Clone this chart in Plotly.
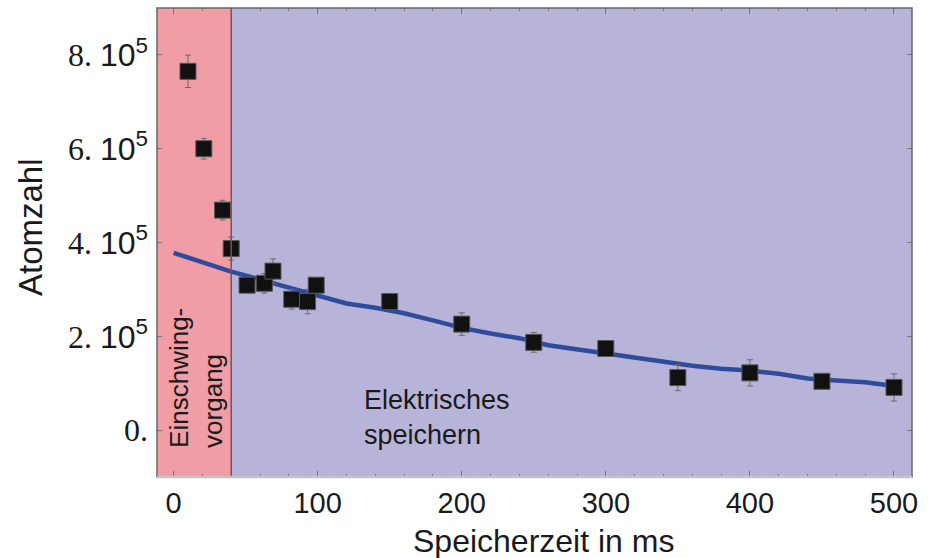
import plotly.graph_objects as go

# Measured atom numbers vs. storage time
t_ms = [10, 21, 34, 40, 51, 63, 69, 82, 93, 99, 150, 200, 250, 300, 350, 400, 450, 500]
atoms = [7.65e5, 6.00e5, 4.69e5, 3.87e5, 3.09e5, 3.13e5, 3.39e5, 2.79e5, 2.74e5, 3.09e5,
         2.74e5, 2.26e5, 1.87e5, 1.74e5, 1.12e5, 1.22e5, 1.04e5, 0.91e5]
atoms_err = [0.345e5, 0.22e5, 0.21e5, 0.245e5, 0.12e5, 0.21e5, 0.26e5, 0.21e5, 0.26e5, 0.12e5,
             0.12e5, 0.24e5, 0.21e5, 0.12e5, 0.28e5, 0.28e5, 0.12e5, 0.29e5]

# Model curve for electric storage
fit_t = [0, 20, 40, 60, 80, 100, 120, 140, 160, 180, 200, 220, 240, 260, 280, 300,
         320, 340, 360, 380, 400, 420, 440, 460, 480, 500]
fit_atoms = [3.78e5, 3.58e5, 3.38e5, 3.21e5, 3.04e5, 2.86e5, 2.70e5, 2.61e5, 2.49e5, 2.34e5,
             2.18e5, 2.06e5, 1.96e5, 1.81e5, 1.72e5, 1.63e5, 1.54e5, 1.46e5, 1.37e5, 1.31e5,
             1.27e5, 1.20e5, 1.10e5, 1.06e5, 1.02e5, 0.94e5]

# Axis ticks
y_tickvals = [0, 2e5, 4e5, 6e5, 8e5]
y_prefix = ["0.", "2.", "4.", "6.", "8."]
x_tickvals = [0, 100, 200, 300, 400, 500]

# Phase boundary (transient phase ends here)
transient_end = 40

X_RANGE = [-11.5, 512.5]
Y_RANGE = [-1.0e5, 9.0e5]

SERIF = "Liberation Serif, Times New Roman, serif"
SANS = "Liberation Sans, Arial, Helvetica, sans-serif"

y_ticktext = []
for v, p in zip(y_tickvals, y_prefix):
    if v == 0:
        y_ticktext.append(p)
    else:
        y_ticktext.append(p + ' <span style="font-family:Liberation Sans, Arial, sans-serif">10<sup>5</sup></span>')

fig = go.Figure()

fig.add_trace(go.Scatter(
    x=fit_t, y=fit_atoms, mode="lines",
    line=dict(color="#2f4c9c", width=4.5),
    hoverinfo="skip", showlegend=False,
))

fig.add_trace(go.Scatter(
    x=t_ms, y=atoms, mode="markers",
    marker=dict(symbol="square", size=16, color="#111111",
                line=dict(color="#555555", width=1)),
    error_y=dict(type="data", array=atoms_err, visible=True,
                 color="#6a6a6a", thickness=1, width=3),
    showlegend=False,
))

# Transient region shading
fig.add_shape(type="rect", xref="x", yref="y",
              x0=X_RANGE[0], x1=transient_end, y0=Y_RANGE[0], y1=Y_RANGE[1],
              fillcolor="#f09da5", line=dict(width=0), layer="below")
fig.add_shape(type="line", xref="x", yref="paper",
              x0=transient_end, x1=transient_end, y0=0, y1=1,
              line=dict(color="#7a5252", width=1.5), layer="above")

# Frame
fig.add_shape(type="rect", xref="paper", yref="paper", x0=0, x1=1, y0=0, y1=1,
              line=dict(color="#666666", width=1.5), layer="above")
fig.add_shape(type="line", xref="paper", yref="paper", x0=0, x1=1, y0=0, y1=0,
              line=dict(color="#c4c4c4", width=2.5), layer="above")

fig.add_annotation(
    x=16, y=-0.43e5, xref="x", yref="y",
    text="Einschwing-<br>vorgang", textangle=-90, showarrow=False,
    align="left", xanchor="center", yanchor="bottom",
    font=dict(family=SANS, size=26, color="#1a1a1a"),
)
fig.add_annotation(
    x=130.5, y=1.0e5, xref="x", yref="y",
    text="Elektrisches<br>speichern", showarrow=False,
    align="left", xanchor="left", yanchor="top",
    font=dict(family=SANS, size=27, color="#1a1a1a"),
)

# Axis titles (positions given in pixels, converted to paper coords below)
fig.add_annotation(
    x=543, y=541, xref="paper", yref="paper", text="Speicherzeit in ms",
    xanchor="center", yanchor="middle",
    showarrow=False, font=dict(family=SANS, size=32, color="#1a1a1a"),
)
fig.add_annotation(
    x=30, y=227, xref="paper", yref="paper", text="Atomzahl", textangle=-90,
    xanchor="center", yanchor="middle",
    showarrow=False, font=dict(family=SANS, size=33, color="#1a1a1a"),
)

W, H = 929, 558
ML, MR, MT, MB = 157, 17, 8, 81
pw, ph = W - ML - MR, H - MT - MB

for ann in fig.layout.annotations:
    if ann.xref == "paper":
        ann.x = (ann.x - ML) / pw
        ann.y = (H - MB - ann.y) / ph

fig.update_layout(
    width=W, height=H,
    margin=dict(l=ML, r=MR, t=MT, b=MB, pad=0),
    paper_bgcolor="white",
    plot_bgcolor="#b8b3d8",
    xaxis=dict(
        range=X_RANGE, tickvals=x_tickvals, ticks="inside", ticklen=6,
        tickcolor="#777777", tickwidth=1, mirror="ticks", showline=False,
        showgrid=False, zeroline=False, ticklabelstandoff=6,
        tickfont=dict(family=SANS, size=29, color="#1a1a1a"),
        minor=dict(dtick=20, ticks="inside", ticklen=3, tickcolor="#777777", showgrid=False),
    ),
    yaxis=dict(
        range=Y_RANGE, tickvals=y_tickvals, ticktext=y_ticktext, ticks="inside",
        ticklen=5, tickcolor="#777777", tickwidth=1, mirror="ticks", showline=False,
        showgrid=False, zeroline=False, ticklabelstandoff=8,
        tickfont=dict(family=SERIF, size=32, color="#1a1a1a"),
    ),
)

fig.write_html("out.html")
